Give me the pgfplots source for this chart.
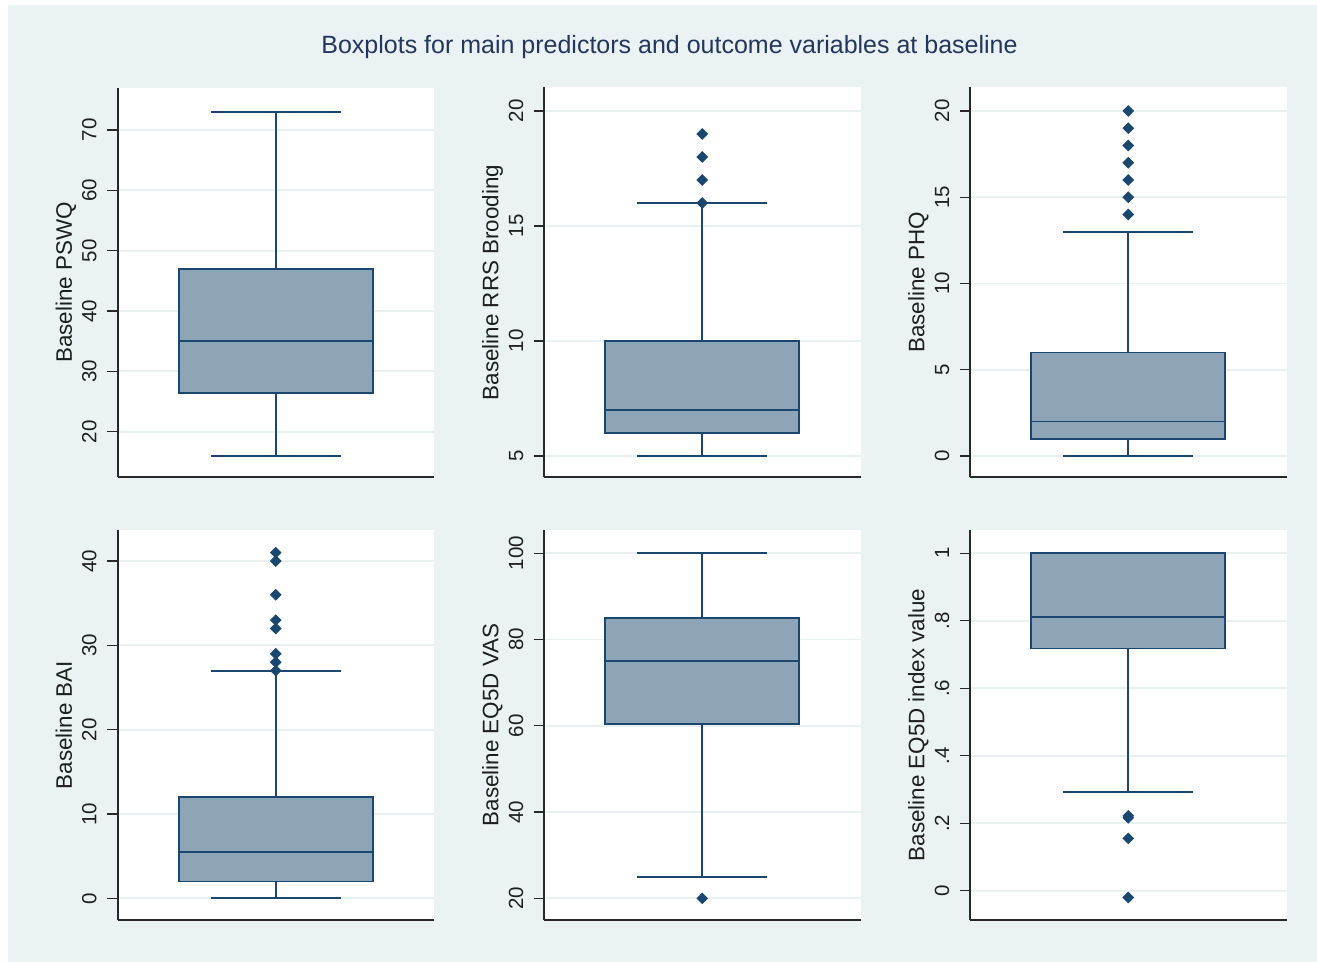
\documentclass[border=0pt]{standalone}
\usepackage{pgfplots}
\pgfplotsset{compat=1.18}
\usepgfplotslibrary{statistics}
\usepackage{fontspec}
\setmainfont{Liberation Sans}
\definecolor{bgc}{RGB}{234,242,243}
\definecolor{gridc}{RGB}{232,240,242}
\definecolor{axc}{RGB}{40,40,40}
\definecolor{txc}{RGB}{30,30,30}
\definecolor{titc}{RGB}{36,54,94}
\definecolor{boxfill}{RGB}{142,164,183}
\definecolor{navy}{RGB}{26,71,111}
\pgfplotsset{
  panel/.style={
    scale only axis, width=158.25pt, height=195pt,
    anchor=south west,
    xmin=0, xmax=1, xtick=\empty,
    axis x line*=bottom, axis y line*=left,
    axis line style={-, draw=axc, line width=1pt},
    axis background/.style={fill=white},
    ymajorgrids, grid style={draw=gridc, line width=0.9pt},
    tick align=outside, major tick length=5pt,
    ytick style={draw=axc, line width=0.7pt},
    /pgf/number format/assume math mode=true,
    yticklabel style={rotate=90, anchor=base, inner sep=0pt,
       font=\fontsize{10.25}{12}\selectfont, text=txc},
    yticklabel shift=5.5pt,
    every axis y label/.style={at={(axis description cs:-0.1438,0.5)}, rotate=90,
       anchor=base, inner sep=0pt, font=\fontsize{11.2}{13}\selectfont, text=txc},
  },
  bx/.style={draw=navy, line width=0.9pt, fill=boxfill, solid, mark=none,
     boxplot/draw direction=y},
  outl/.style={only marks, mark=square*, mark size=1.85pt,
     mark options={rotate=45, draw=navy, fill=navy}},
}
\begin{document}
\begin{tikzpicture}
\path[fill=white] (0,0) rectangle (658.5pt,-481pt);
\path[fill=bgc] (4pt,-2.5pt) rectangle (658.5pt,-481pt);
\node[anchor=base, inner sep=0pt, text=titc, font=\fontsize{12.5}{15}\selectfont]
  at (334.75pt,-27pt) {Boxplots for main predictors and outcome variables at baseline};

% Panel 1: PSWQ
\begin{axis}[panel, at={(58.75pt,-238.75pt)}, ymin=12.41, ymax=77.04,
  ytick={20,30,40,50,60,70}, ylabel={Baseline PSWQ}]
\addplot[bx, boxplot prepared={draw direction=y, draw position=0.5, box extend=0.613, whisker extend=0.41,
  lower whisker=16, lower quartile=26.4, median=35, upper quartile=47, upper whisker=73}] coordinates {};
\end{axis}

% Panel 2: RRS Brooding
\begin{axis}[panel, at={(272pt,-238.75pt)}, ymin=4.065, ymax=21.02,
  ytick={5,10,15,20}, ylabel={Baseline RRS Brooding}]
\addplot[bx, boxplot prepared={draw direction=y, draw position=0.5, box extend=0.613, whisker extend=0.41,
  lower whisker=5, lower quartile=6, median=7, upper quartile=10, upper whisker=16}] coordinates {};
\addplot[outl] coordinates {(0.5,16) (0.5,17) (0.5,18) (0.5,19)};
\end{axis}

% Panel 3: PHQ
\begin{axis}[panel, at={(485pt,-238.75pt)}, ymin=-1.246, ymax=21.36,
  ytick={0,5,10,15,20}, ylabel={Baseline PHQ}]
\addplot[bx, boxplot prepared={draw direction=y, draw position=0.5, box extend=0.613, whisker extend=0.41,
  lower whisker=0, lower quartile=1, median=2, upper quartile=6, upper whisker=13}] coordinates {};
\addplot[outl] coordinates {(0.5,14) (0.5,15) (0.5,16) (0.5,17) (0.5,18) (0.5,19) (0.5,20)};
\end{axis}

% Panel 4: BAI
\begin{axis}[panel, at={(58.75pt,-460pt)}, ymin=-2.57, ymax=43.68,
  ytick={0,10,20,30,40}, ylabel={Baseline BAI}]
\addplot[bx, boxplot prepared={draw direction=y, draw position=0.5, box extend=0.613, whisker extend=0.41,
  lower whisker=0, lower quartile=2, median=5.5, upper quartile=12, upper whisker=27}] coordinates {};
\addplot[outl] coordinates {(0.5,27) (0.5,28) (0.5,29) (0.5,32) (0.5,33) (0.5,36) (0.5,40) (0.5,41)};
\end{axis}

% Panel 5: EQ5D VAS
\begin{axis}[panel, at={(272pt,-460pt)}, ymin=14.97, ymax=105.4,
  ytick={20,40,60,80,100}, ylabel={Baseline EQ5D VAS}]
\addplot[bx, boxplot prepared={draw direction=y, draw position=0.5, box extend=0.613, whisker extend=0.41,
  lower whisker=25, lower quartile=60.4, median=75, upper quartile=85, upper whisker=100}] coordinates {};
\addplot[outl] coordinates {(0.5,20)};
\end{axis}

% Panel 6: EQ5D index
\begin{axis}[panel, at={(485pt,-460pt)}, ymin=-0.0868, ymax=1.069,
  ytick={0,0.2,0.4,0.6,0.8,1}, yticklabels={0,.2,.4,.6,.8,1},
  ylabel={Baseline EQ5D index value}]
\addplot[bx, boxplot prepared={draw direction=y, draw position=0.5, box extend=0.613, whisker extend=0.41,
  lower whisker=0.292, lower quartile=0.718, median=0.81, upper quartile=1, upper whisker=1}] coordinates {};
\addplot[outl] coordinates {(0.5,0.216) (0.5,0.222) (0.5,0.155) (0.5,-0.02)};
\end{axis}
\end{tikzpicture}
\end{document}
